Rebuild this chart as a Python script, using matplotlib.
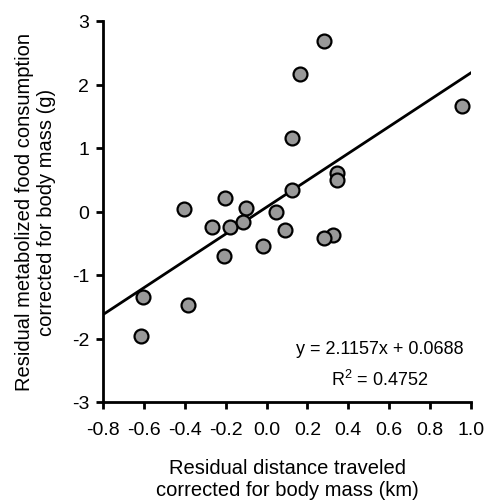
import numpy as np
import matplotlib
matplotlib.use("Agg")
import matplotlib.pyplot as plt

plt.rcParams['font.family'] = ['Liberation Sans', 'DejaVu Sans']
plt.rcParams['axes.unicode_minus'] = False

# residual distance (km) and residual food consumption (g)
dist = [0.283, 0.165, 0.956, 0.125, 0.343, 0.343, 0.125, -0.205, -0.402, -0.10, 0.048,
        -0.267, -0.18, -0.114, 0.09, 0.327, 0.28, -0.017, -0.208, -0.603, -0.386, -0.614]
food = [2.69, 2.165, 1.657, 1.16, 0.606, 0.50, 0.343, 0.208, 0.035, 0.05, 0.0,
        -0.24, -0.24, -0.17, -0.29, -0.37, -0.42, -0.54, -0.70, -1.35, -1.47, -1.96]

slope = 2.1157
intercept = 0.0688
r2 = 0.4752

fig = plt.figure(figsize=(4.86, 5.02), dpi=100)
ax = fig.add_axes([103 / 486, 1 - 403 / 502, 368 / 486, 381 / 502])

xl = np.array([-0.8, 1.0])
ax.plot(xl, slope * xl + intercept, color='black', lw=2, zorder=2)
ax.plot(dist, food, 'o', ms=10, mfc='#999999', mec='black', mew=1.6, zorder=3, clip_on=False)

ax.set_xlim(-0.8, 1.0)
ax.set_ylim(-3, 3)
ax.set_xticks(np.arange(-0.8, 1.01, 0.2))
ax.set_xticklabels(['-0.8', '-0.6', '-0.4', '-0.2', '0.0', '0.2', '0.4', '0.6', '0.8', '1.0'])
ax.set_yticks(range(-3, 4))

for s in ['top', 'right']:
    ax.spines[s].set_visible(False)
for s in ['left', 'bottom']:
    ax.spines[s].set_linewidth(2)
ax.tick_params(width=2, length=5, labelsize=14, direction='out')
ax.tick_params(axis='x', pad=9)
ax.tick_params(axis='y', pad=5)

ax.set_xlabel('Residual distance traveled\ncorrected for body mass (km)', fontsize=14.5, labelpad=14)
ax.set_ylabel('Residual metabolized food consumption\ncorrected for body mass (g)', fontsize=14.5, labelpad=11)

ax.text(0.555, -2.165, 'y = %.4fx + %.4f' % (slope, intercept), fontsize=13, ha='center', va='center')
ax.text(0.555, -2.64, 'R$\\mathregular{^2}$ = %.4f' % r2, fontsize=13, ha='center', va='center')

fig.savefig('out.png', dpi=100)
